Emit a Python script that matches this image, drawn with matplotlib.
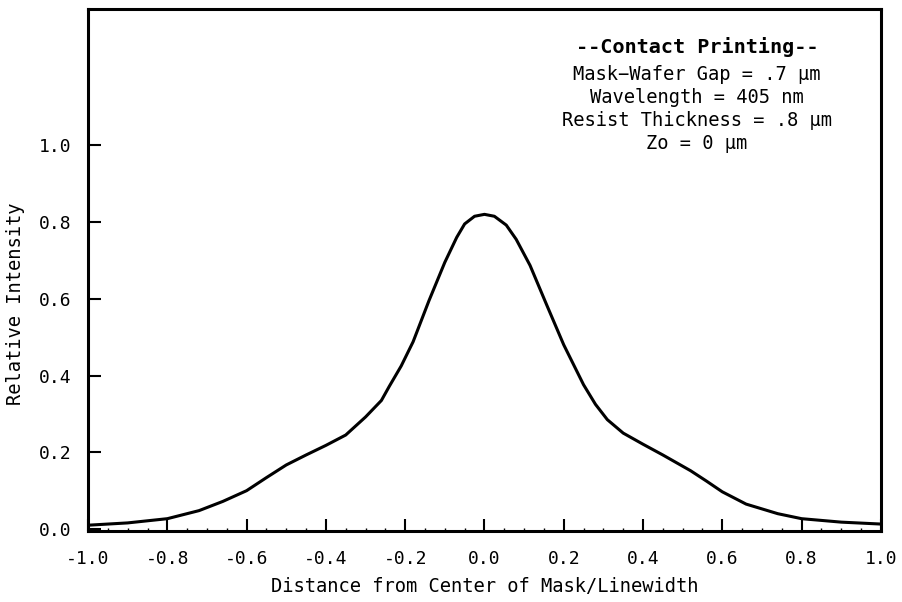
import matplotlib
matplotlib.use('Agg')
import matplotlib.pyplot as plt
import numpy as np

# intensity profile
x = [-1.00, -0.90, -0.80, -0.72, -0.66, -0.60, -0.55, -0.50, -0.45, -0.40,
     -0.35, -0.30, -0.26, -0.24, -0.21, -0.18, -0.14, -0.10, -0.07, -0.05,
     -0.025, 0.00, 0.025, 0.055, 0.08, 0.115, 0.157, 0.20, 0.25, 0.28,
     0.31, 0.35, 0.40, 0.45, 0.52, 0.56, 0.60, 0.66, 0.74, 0.80,
     0.90, 1.00]
intensity = [0.010, 0.016, 0.027, 0.048, 0.072, 0.100, 0.134, 0.167, 0.193, 0.218,
             0.245, 0.292, 0.335, 0.372, 0.425, 0.488, 0.595, 0.695, 0.760, 0.795,
             0.815, 0.820, 0.815, 0.792, 0.755, 0.687, 0.584, 0.480, 0.376, 0.325,
             0.285, 0.250, 0.221, 0.193, 0.152, 0.125, 0.097, 0.065, 0.040, 0.027,
             0.018, 0.013]

xticks = [-1.0, -0.8, -0.6, -0.4, -0.2, 0.0, 0.2, 0.4, 0.6, 0.8, 1.0]
yticks = [0.0, 0.2, 0.4, 0.6, 0.8, 1.0]

notes = ["Mask\u2212Wafer Gap = .7 \u03bcm",
         "Wavelength = 405 nm",
         "Resist Thickness = .8 \u03bcm",
         "Zo = 0 \u03bcm"]

plt.rcParams['font.family'] = ['DejaVu Sans Mono', 'DejaVu Sans']

fig = plt.figure(figsize=(9.03, 6.02), dpi=100)
ax = fig.add_axes([0.0975, 0.118, 0.878, 0.867])

ax.plot(x, intensity, color='k', linewidth=2.2, solid_joinstyle='round')

ax.set_xlim(-1.0, 1.0)
ax.set_ylim(-0.005, 1.355)
ax.set_xticks(xticks)
ax.set_yticks(yticks)
ax.set_xticklabels(['%.1f' % v for v in xticks], fontsize=13)
ax.set_yticklabels(['%.1f' % v for v in yticks], fontsize=13)
ax.set_xticks(np.arange(-1.0, 1.001, 0.05), minor=True)
ax.tick_params(axis='both', which='major', direction='in', length=9, width=1.5, color='k')
ax.tick_params(axis='x', which='major', pad=14)
ax.tick_params(axis='y', which='major', pad=12)
ax.tick_params(axis='x', which='minor', direction='in', length=2, width=1)
for s in ax.spines.values():
    s.set_linewidth(2.2)

ax.set_xlabel('Distance from Center of Mask/Linewidth', fontsize=13.5, labelpad=6)
ax.set_ylabel('Relative Intensity', fontsize=13.5)
ax.yaxis.set_label_coords(-0.08, 0.435)

ax.text(0.768, 0.927, '--Contact Printing--', transform=ax.transAxes,
        ha='center', va='center', fontsize=14.5, fontweight='bold')
for i, line in enumerate(notes):
    ax.text(0.768, 0.874 - i * 0.044, line, transform=ax.transAxes,
            ha='center', va='center', fontsize=13.5)

fig.savefig('out.png', dpi=100)
